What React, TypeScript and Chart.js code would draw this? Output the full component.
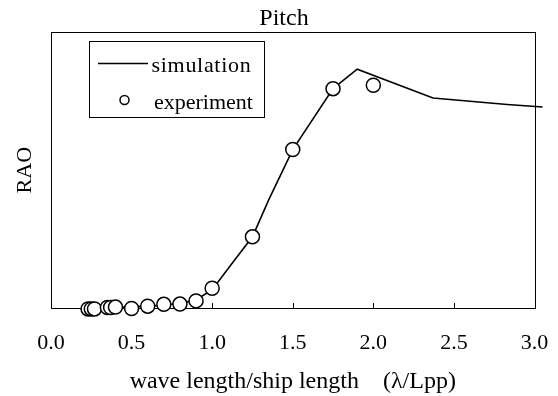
import React, { useEffect, useRef } from "react";
import { Chart, registerables } from "chart.js";

Chart.register(...registerables);

// ---- data ----
const chartTitle = "Pitch";
const xAxisTitle = "wave length/ship length\u3000(λ/Lpp)";
const yAxisTitle = "RAO";
const xTicks = [0, 0.5, 1.0, 1.5, 2.0, 2.5, 3.0];
const simLabel = "simulation";
const expLabel = "experiment";

const simX = [0.2, 0.3, 0.4, 0.5, 0.6, 0.7, 0.8, 0.9, 1.0, 1.13, 1.25, 1.35, 1.5, 1.75, 1.9, 2.37, 2.83, 3.05];
const simY = [0.0, 0.0, 0.003, 0.005, 0.008, 0.013, 0.02, 0.035, 0.08, 0.2, 0.31, 0.47, 0.69, 0.955, 1.04, 0.914, 0.886, 0.875];

const expX = [0.23, 0.25, 0.27, 0.35, 0.37, 0.4, 0.5, 0.6, 0.7, 0.8, 0.9, 1.0, 1.25, 1.5, 1.75, 2.0];
const expY = [-0.004, -0.004, -0.004, 0.002, 0.002, 0.004, -0.002, 0.008, 0.016, 0.017, 0.031, 0.086, 0.31, 0.69, 0.955, 0.97];

const FONT = "'Liberation Serif', 'Times New Roman', serif";

export default function App() {
  const ref = useRef<HTMLCanvasElement>(null);

  useEffect(() => {
    const canvas = ref.current;
    if (!canvas) return;

    const framePlugin = {
      id: "frameTicks",
      beforeDatasetsDraw(chart: any) {
        const { ctx, chartArea: ca } = chart;
        const xs = chart.scales.x;
        ctx.save();
        ctx.strokeStyle = "#000";
        ctx.lineWidth = 1;
        ctx.strokeRect(Math.round(ca.left) + 0.5, Math.round(ca.top) + 0.5, Math.round(ca.right - ca.left), Math.round(ca.bottom - ca.top));
        ctx.beginPath();
        for (const v of xTicks) {
          const px = Math.round(xs.getPixelForValue(v)) + 0.5;
          ctx.moveTo(px, ca.bottom);
          ctx.lineTo(px, ca.bottom - 5);
        }
        ctx.stroke();
        ctx.restore();
      },
      afterDraw(chart: any) {
        const { ctx, chartArea: ca } = chart;
        const simDs = chart.data.datasets[1];
        const expDs = chart.data.datasets[0];
        const L = Math.round(ca.left) + 38.5;
        const T = Math.round(ca.top) + 9.5;
        const W = 175;
        const H = 76;
        ctx.save();
        ctx.fillStyle = "#fff";
        ctx.fillRect(L, T, W, H);
        ctx.strokeStyle = "#000";
        ctx.lineWidth = 1;
        ctx.strokeRect(L, T, W, H);
        // line sample
        ctx.beginPath();
        ctx.lineWidth = simDs.borderWidth;
        ctx.strokeStyle = simDs.borderColor;
        ctx.moveTo(L + 8.5, T + 22);
        ctx.lineTo(L + 58.5, T + 22);
        ctx.stroke();
        // circle sample
        ctx.beginPath();
        ctx.lineWidth = expDs.borderWidth;
        ctx.strokeStyle = expDs.borderColor;
        ctx.fillStyle = expDs.backgroundColor;
        ctx.arc(L + 35, T + 58.5, 4.5, 0, Math.PI * 2);
        ctx.fill();
        ctx.stroke();
        // texts
        ctx.fillStyle = "#000";
        ctx.font = `22px ${FONT}`;
        ctx.textBaseline = "alphabetic";
        ctx.textAlign = "left";
        try { (ctx as any).letterSpacing = "0.7px"; } catch (e) {}
        ctx.fillText(simLabel, L + 62, T + 30.5);
        try { (ctx as any).letterSpacing = "0px"; } catch (e) {}
        ctx.fillText(expLabel, L + 64.5, T + 67);
        ctx.restore();
      },
    };

    const chart = new Chart(canvas, {
      type: "scatter",
      data: {
        datasets: [
          {
            label: expLabel,
            data: expX.map((x, i) => ({ x, y: expY[i] })),
            pointRadius: 7,
            pointHoverRadius: 7,
            pointStyle: "circle",
            backgroundColor: "#fff",
            borderColor: "#000",
            borderWidth: 1.5,
            showLine: false,
            clip: false as any,
            order: 0,
          },
          {
            label: simLabel,
            data: simX.map((x, i) => ({ x, y: simY[i] })),
            showLine: true,
            pointRadius: 0,
            borderColor: "#000",
            backgroundColor: "#000",
            borderWidth: 1.6,
            tension: 0,
            clip: false as any,
            order: 1,
          },
        ],
      },
      options: {
        responsive: false,
        animation: false,
        devicePixelRatio: 1,
        layout: { padding: { left: 10, right: 0, top: 0, bottom: 0 }, autoPadding: false },
        font: { family: FONT },
        color: "#000",
        plugins: {
          legend: { display: false },
          tooltip: { enabled: false },
          title: {
            display: true,
            text: chartTitle,
            color: "#000",
            font: { family: FONT, size: 24, weight: "normal" as any, lineHeight: 1.1 },
            padding: { top: 6, bottom: 0 },
          },
        },
        scales: {
          x: {
            type: "linear",
            position: "bottom",
            min: 0,
            max: 3,
            afterBuildTicks: (s: any) => {
              s.ticks = xTicks.map((v) => ({ value: v }));
            },
            afterFit: (s: any) => {
              s.height = 88;
              s.paddingLeft = 0;
              s.paddingRight = 0;
            },
            grid: { display: false, drawTicks: false },
            border: { display: false },
            ticks: {
              color: "#000",
              font: { family: FONT, size: 22 },
              padding: 22,
              maxRotation: 0,
              autoSkip: false,
              callback: (v: any) => Number(v).toFixed(1),
            },
            title: {
              display: true,
              text: xAxisTitle,
              color: "#000",
              font: { family: FONT, size: 24, lineHeight: 1.2 },
              padding: { top: 0, bottom: 0 },
            },
          },
          y: {
            type: "linear",
            position: "left",
            min: 0,
            max: 1.2,
            afterFit: (s: any) => {
              s.width = 41;
            },
            grid: { display: false, drawTicks: false },
            border: { display: false },
            ticks: { display: false },
            title: {
              display: true,
              text: yAxisTitle,
              color: "#000",
              font: { family: FONT, size: 22, lineHeight: 1.2 },
              padding: { top: 2, bottom: 0 },
            },
          },
          yRight: {
            type: "linear",
            position: "right",
            display: true,
            min: 0,
            max: 1.2,
            afterFit: (s: any) => {
              s.width = 23.5;
            },
            grid: { display: false, drawTicks: false },
            border: { display: false },
            ticks: { display: false },
          },
        },
      },
      plugins: [framePlugin],
    });

    return () => chart.destroy();
  }, []);

  return (
    <div style={{ position: "fixed", left: 0, top: 0, width: 558, height: 396, background: "#fff" }}>
      <canvas ref={ref} width={558} height={396} style={{ display: "block", width: 558, height: 396 }} />
    </div>
  );
}
